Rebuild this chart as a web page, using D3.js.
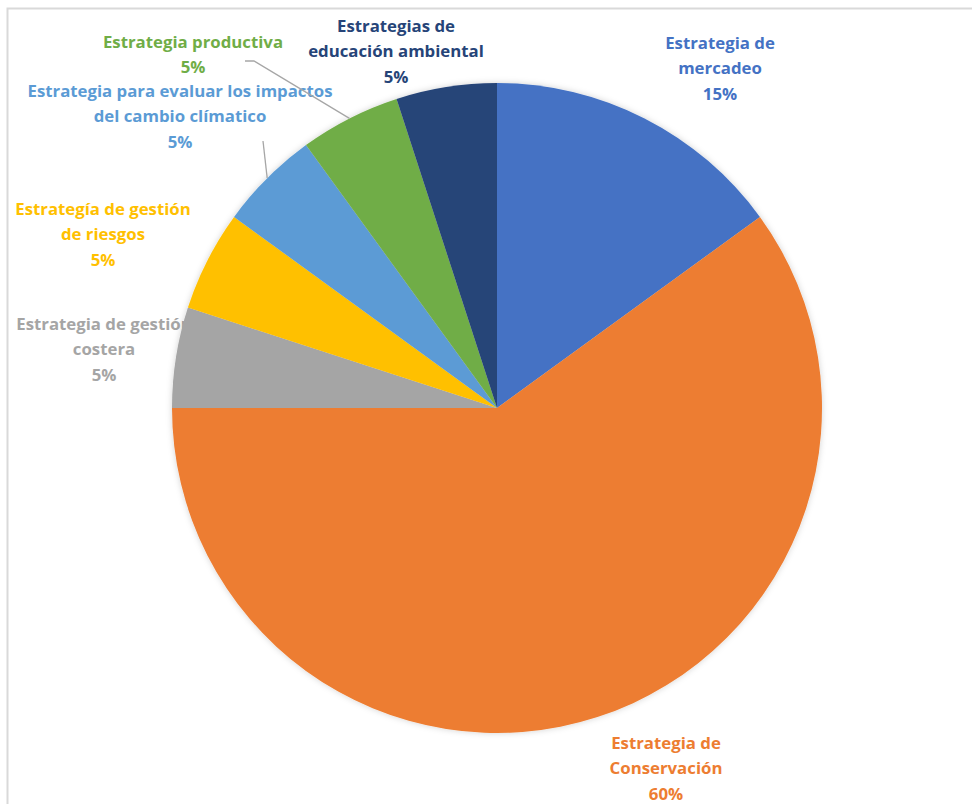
<!DOCTYPE html>
<html>
<head>
<meta charset="utf-8">
<script src="https://cdn.jsdelivr.net/npm/d3@7"></script>
<style>
  html, body { margin: 0; padding: 0; background: #fff; }
  svg { display: block; }
  text { font-family: "Open Sans", Lato, sans-serif; font-weight: 700; }
</style>
</head>
<body>
<svg id="chart" width="972" height="804"></svg>
<script>
// Strategy shares (percent), clockwise from 12 o'clock
const categories = [
  "Estrategia de mercadeo",
  "Estrategia de Conservación",
  "Estrategia de gestión costera",
  "Estrategía de gestión de riesgos",
  "Estrategia para evaluar los impactos del cambio clímatico",
  "Estrategia productiva",
  "Estrategias de educación ambiental"
];
const values = [15, 60, 5, 5, 5, 5, 5];
const colors = ["#4472C4", "#ED7D31", "#A5A5A5", "#FFC000", "#5B9BD5", "#70AD47", "#264478"];

// How each category name wraps in its label
const labelLines = [
  ["Estrategia de", "mercadeo"],
  ["Estrategia de", "Conservación"],
  ["Estrategia de gestión", "costera"],
  ["Estrategía de gestión", "de riesgos"],
  ["Estrategia para evaluar los impactos", "del cambio clímatico"],
  ["Estrategia productiva"],
  ["Estrategias de", "educación ambiental"]
];

// Label placement: centre x and first baseline y
const labelLayout = [
  { x: 720, y: 49 },
  { x: 666, y: 749 },
  { x: 104, y: 330 },
  { x: 103, y: 215 },
  { x: 180, y: 97 },
  { x: 193, y: 48 },
  { x: 396, y: 32 }
];

const W = 972, H = 804;
const cx = 497, cy = 408, R = 325;
const lineH = 25.3;

const svg = d3.select("#chart");

// light chart frame
svg.append("rect")
  .attr("x", 7.5).attr("y", 8.5)
  .attr("width", W + 20).attr("height", H + 20)
  .attr("fill", "#fff")
  .attr("stroke", "#d9d9d9")
  .attr("stroke-width", 2);

const defs = svg.append("defs");
const shadow = defs.append("filter").attr("id", "soft")
  .attr("x", "-10%").attr("y", "-10%").attr("width", "120%").attr("height", "120%");
shadow.append("feDropShadow")
  .attr("dx", 0).attr("dy", 0).attr("stdDeviation", 3)
  .attr("flood-color", "#000").attr("flood-opacity", 0.18);

const data = categories.map((c, i) => ({ name: c, value: values[i], color: colors[i], lines: labelLines[i], layout: labelLayout[i] }));

const pie = d3.pie().value(d => d.value).sort(null).startAngle(0).endAngle(2 * Math.PI);
const arcs = pie(data);
const arc = d3.arc().innerRadius(0).outerRadius(R);

// labels go underneath the pie
const labels = svg.append("g");
arcs.forEach(a => {
  const d = a.data;
  const t = labels.append("text")
    .attr("text-anchor", "middle")
    .attr("fill", d.color)
    .attr("font-size", 16.8);
  const lines = d.lines.concat([d.value + "%"]);
  lines.forEach((ln, k) => {
    t.append("tspan").attr("x", d.layout.x).attr("y", d.layout.y + k * lineH).text(ln);
  });
});

const g = svg.append("g").attr("transform", `translate(${cx},${cy})`);
g.append("g").attr("filter", "url(#soft)")
  .selectAll("path").data(arcs).join("path")
  .attr("d", arc)
  .attr("fill", d => d.data.color);

// leader lines to the two crowded slices
const edge = a => {
  const m = (a.startAngle + a.endAngle) / 2;
  return [cx + R * Math.sin(m), cy - R * Math.cos(m)];
};
const leaders = [
  { i: 5, from: [[245, 61], [254, 61]] },
  { i: 4, from: [[263, 141]] }
];
leaders.forEach(l => {
  const pts = l.from.concat([edge(arcs[l.i])]);
  svg.append("path")
    .attr("d", d3.line()(pts))
    .attr("fill", "none")
    .attr("stroke", "#a6a6a6")
    .attr("stroke-width", 1.3);
});
</script>
</body>
</html>
